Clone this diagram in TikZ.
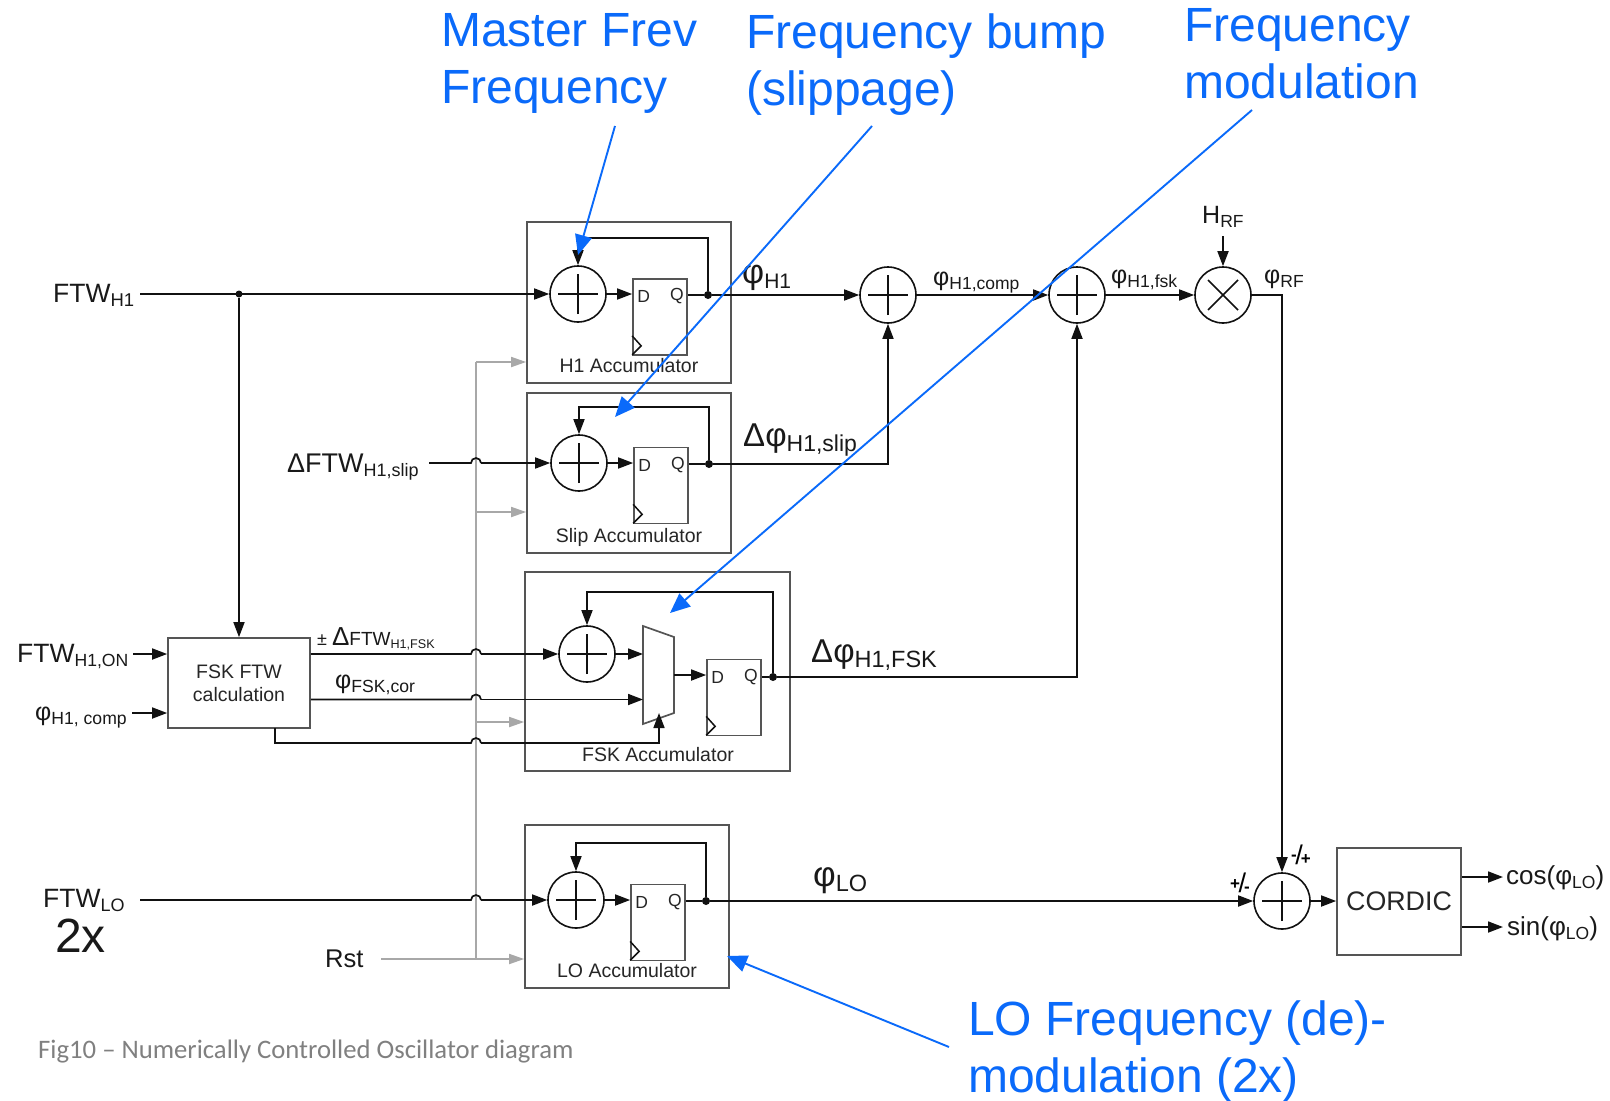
\documentclass[tikz,border=0pt]{standalone}
\usepackage{fontspec}
\setmainfont{Liberation Sans}
\newfontfamily\capfont{Carlito}
\usetikzlibrary{arrows.meta,calc}
\definecolor{noteblue}{HTML}{0A6AFA}
\definecolor{sig}{HTML}{111111}
\definecolor{boxedge}{HTML}{555555}
\definecolor{rstgray}{HTML}{A8A8A8}
\newcommand{\fs}[1]{\fontsize{#1}{#1}\selectfont}
% main size, main text, sub size, sub text
\newcommand{\lbl}[4]{{\fs{#1}#2\raisebox{-0.16em}{\fs{#3}#4}}}
\newcommand{\twolines}[2]{\vtop{\baselineskip=57.5pt\lineskiplimit=-100pt\hbox{#1}\hbox{#2}}}
\tikzset{
  arr/.style={-{Triangle[length=15pt,width=11pt]},line width=1.7pt,draw=sig},
  wire/.style={line width=1.7pt,draw=sig},
  grayarr/.style={-{Triangle[length=15pt,width=10pt]},line width=1.7pt,draw=rstgray},
  graywire/.style={line width=1.9pt,draw=rstgray},
  bluearr/.style={-{Triangle[length=20pt,width=17pt]},line width=1.9pt,draw=noteblue},
  outer/.style={draw=boxedge,line width=1.7pt,inner sep=0pt},
  ffbox/.style={draw=boxedge,line width=1.7pt,inner sep=0pt,minimum width=54pt,minimum height=76pt},
  adder/.style={circle,draw=sig,line width=1.6pt,minimum size=56pt,inner sep=0pt,
    path picture={\draw[line width=1.5pt,draw=sig] ([xshift=-20pt]path picture bounding box.center)--([xshift=20pt]path picture bounding box.center)
      ([yshift=-20pt]path picture bounding box.center)--([yshift=20pt]path picture bounding box.center);}},
  mult/.style={circle,draw=sig,line width=1.6pt,minimum size=56pt,inner sep=0pt,
    path picture={\draw[line width=1.5pt,draw=sig] ([shift={(-15pt,-15pt)}]path picture bounding box.center)--([shift={(15pt,15pt)}]path picture bounding box.center)
      ([shift={(-15pt,15pt)}]path picture bounding box.center)--([shift={(15pt,-15pt)}]path picture bounding box.center);}},
  dotn/.style={circle,fill=sig,inner sep=0pt,minimum size=8pt},
  acc/.style={font=\fs{19.5},text=black!85,inner sep=0pt},
  txt/.style={inner sep=0pt,text=black!90,anchor=base west},
  note/.style={inner sep=0pt,text=noteblue,anchor=base west,font=\fs{48}},
  pinl/.style={font=\fs{17.5},inner sep=0pt,text=black!85},
  clk/.style={line width=1.5pt,draw=sig},
}
\begin{document}
\begin{tikzpicture}[x=1pt,y=-1pt]
\useasboundingbox (0,0) rectangle (1610,1101);
\fill[white] (0,0) rectangle (1610,1101);

% ---- outer boxes
\node[outer,minimum width=204pt,minimum height=161pt] (boxH) at (629,302.5) {};
\node[outer,minimum width=204pt,minimum height=160pt] (boxS) at (629,473) {};
\node[outer,minimum width=265pt,minimum height=199pt] (boxF) at (657.5,671.5) {};
\node[outer,minimum width=204pt,minimum height=163pt] (boxL) at (627,906.5) {};
\node[outer,minimum width=142pt,minimum height=90pt,align=center,font=\fs{19.5},text=black!85] (fsk) at (239,683) {FSK FTW\\[3.5pt]calculation};
\node[outer,minimum width=124pt,minimum height=107pt,font=\fs{26.8},text=black!85] (cordic) at (1399,901.5) {CORDIC};

% ---- accumulator labels
\node[acc] (lH) at (629,366) {H1 Accumulator};
\node[acc] (lS) at (629,537) {Slip Accumulator};
\node[acc] (lF) at (658,755) {FSK Accumulator};
\node[acc] (lL) at (627,971) {LO Accumulator};

% ---- adders
\node[adder] (aH) at (578,294) {};
\node[adder] (aS) at (579,463) {};
\node[adder] (aF) at (587,654) {};
\node[adder] (aL) at (576,900) {};
\node[adder] (s1) at (888,295) {};
\node[adder] (s2) at (1077,295) {};
\node[mult]  (mx) at (1223,295) {};
\node[adder] (s3) at (1282,901) {};

% ---- flip-flops
\node[ffbox] (ffH) at (660,317) {};
\node[ffbox] (ffS) at (661,485.5) {};
\node[ffbox] (ffF) at (734,697.5) {};
\node[ffbox] (ffL) at (658,922.5) {};
\foreach \f/\dy in {ffH/296,ffS/465,ffF/677,ffL/902}{
  \node[pinl,xshift=11.5pt] (\f D) at (\f.west|-0,\dy) {D};
  \node[pinl,xshift=-11pt] (\f Q) at (\f.east|-0,\dy) {Q};
  \draw[clk] ($(\f.south west)+(0,-20)$) -- ($(\f.south west)+(9,-10)$) -- ($(\f.south west)+(0,-1)$);
}

% ---- mux
\coordinate (m1) at (643,626);
\coordinate (m2) at (674,637);
\coordinate (m3) at (674,713);
\coordinate (m4) at (643,724);
\draw[line width=1.7pt,draw=boxedge] (m1) -- (m2) -- (m3) -- (m4) -- cycle;

% ---- junction points and free ends
\node[dotn] (dH) at (708,295) {};
\node[dotn] (dS) at (709,464) {};
\node[dotn] (dF) at (773,677) {};
\node[dotn] (dL) at (706,901) {};
\node[dotn,minimum size=7pt] (dT) at (239,294) {};

% ---- inner accumulator wiring
\draw[arr] (aH.east) -- (ffH.west|-aH);
\draw[arr] (aS.east) -- (ffS.west|-aS);
\draw[arr] (aL.east) -- (ffL.west|-aL);
\draw[wire] (ffH.east|-dH) -- (dH);
\draw[wire] (ffS.east|-dS) -- (dS);
\draw[wire] (ffF.east|-dF) -- (dF);
\draw[wire] (ffL.east|-dL) -- (dL);
\draw[arr] (dH) -- (dH|-0,238) -| (aH.north);
\draw[arr] (dS) -- (dS|-0,407) -| (aS.north);
\draw[arr] (dF) -- (dF|-0,592) -| (aF.north);
\draw[arr] (dL) -- (dL|-0,843) -| (aL.north);
\draw[arr] (aF.east) -- (643,654);
\draw[arr] (674,675) -- (ffF.west|-0,675);

% ---- gray reset network
\coordinate (rS) at (381,959);
\coordinate (rJ) at (476,959);
\coordinate (rT) at (476,362);
\draw[graywire] (rJ) -- (rT);
\draw[grayarr] (rS) -- (boxL.west|-rS);
\draw[grayarr] (rT) -- (boxH.west|-rT);
\draw[grayarr] (476,512) -- (boxS.west|-0,512);
\draw[grayarr] (476,722) -- (boxF.west|-0,722);

% ---- main signal wiring
\coordinate (iH) at (140,294);
\draw[arr] (iH) -- (aH.west);
\draw[arr] (dT) -- (fsk.north);
\draw[arr] (dH) -- (s1.west);
\draw[arr] (s1.east) -- (s2.west);
\draw[arr] (s2.east) -- (mx.west);
\coordinate (iRF) at (1223,236);
\draw[arr] (iRF) -- (mx.north);
\draw[arr] (mx.east) -| (s3.north);
\draw[arr] (dS) -| (s1.south);
\draw[arr] (dF) -| (s2.south);
\draw[arr] (dL) -- (s3.west);
\draw[arr] (s3.east) -- (cordic.west|-s3);

\coordinate (iS) at (429,463);
\draw[wire] (iS) -- (471,463) arc[start angle=180,end angle=360,radius=5];
\draw[arr] (481,463) -- (aS.west);

\draw[wire] (fsk.east|-0,654) -- (471,654) arc[start angle=180,end angle=360,radius=5];
\draw[arr] (481,654) -- (aF.west);
\draw[wire] (fsk.east|-0,699.5) -- (471,699.5) arc[start angle=180,end angle=360,radius=5];
\draw[arr] (481,699.5) -- (643,699.5);
\draw[wire] (275,728) -- (275,743) -- (471,743) arc[start angle=180,end angle=360,radius=5];
\draw[arr] (481,743) -- (659,743) -- (659,713);

\coordinate (iL) at (140,900);
\draw[wire] (iL) -- (471,900) arc[start angle=180,end angle=360,radius=5];
\draw[arr] (481,900) -- (aL.west);

\coordinate (iON) at (133,654);
\coordinate (iPh) at (132,713);
\draw[arr] (iON) -- (fsk.west|-iON);
\draw[arr] (iPh) -- (fsk.west|-iPh);
\coordinate (oC) at (1503,877);
\coordinate (oS) at (1503,927);
\draw[arr] (cordic.east|-oC) -- (oC);
\draw[arr] (cordic.east|-oS) -- (oS);

% ---- signal labels
\node[txt] (tFTW) at (53,302) {\lbl{26.5}{FTW}{18.5}{H1}};
\node[txt] (tSlip) at (287,472) {\lbl{27}{ΔFTW}{18}{H1,slip}};
\node[txt] (tON) at (17,662) {\lbl{26.5}{FTW}{17.6}{H1,ON}};
\node[txt] (tPh) at (35,720) {\lbl{25}{φ}{17.6}{H1, comp}};
\node[txt] (tFd) at (317,645) {{\fs{18}±~}{\fs{26}Δ}\lbl{19}{FTW}{12.6}{H1,FSK}};
\node[txt] (tCor) at (335,688) {\lbl{25}{φ}{17.6}{FSK,cor}};
\node[txt] (tLO) at (43,907) {\lbl{26.5}{FTW}{18}{LO}};
\node[txt,font=\fs{48}] (t2x) at (55,952) {2x};
\node[txt,font=\fs{25.6}] (tRst) at (325,967) {Rst};
\node[txt] (tPH1) at (742,283) {\lbl{34}{φ}{21}{H1}};
\node[txt] (tDS) at (743,446) {\lbl{33}{Δφ}{23}{H1,slip}};
\node[txt] (tDF) at (811,662) {\lbl{33}{Δφ}{23.5}{H1,FSK}};
\node[txt] (tPLO) at (813,886) {\lbl{35}{φ}{23.5}{LO}};
\node[txt] (tComp) at (933,285) {\lbl{25}{φ}{17.5}{H1,comp}};
\node[txt] (tFsk) at (1111,283) {\lbl{25}{φ}{17.6}{H1,fsk}};
\node[txt] (tRF) at (1264,283) {\lbl{25}{φ}{17.5}{RF}};
\node[txt] (tHRF) at (1202,223) {\lbl{25}{H}{17.5}{RF}};
\node[txt] (tCos) at (1506,884) {{\fs{26}cos(}\lbl{26}{φ}{17.5}{LO}{\fs{26})}};
\node[txt] (tSin) at (1507,935) {{\fs{26}sin(}\lbl{26}{φ}{17.5}{LO}{\fs{26})}};
\node[inner sep=0pt] (tPM) at (1240,883) {\raisebox{.3em}{\fs{17}\bfseries +}\hspace{-1.5pt}{\fs{27}/}\hspace{-2pt}\raisebox{.02em}{\fs{17}\bfseries -}};
\node[inner sep=0pt] (tMP) at (1301,855) {\raisebox{.38em}{\fs{17}\bfseries -}\hspace{-1.5pt}{\fs{27}/}\hspace{-2pt}\raisebox{-.02em}{\fs{17}\bfseries +}};

% ---- caption
\node[inner sep=0pt,anchor=west,text=black!50,font=\capfont\fs{26.7}] (cap) at (38,1052) {Fig10 – Numerically Controlled Oscillator diagram};

% ---- blue notes
\node[note] (n1) at (441,46) {\twolines{Master Frev}{Frequency}};
\node[note] (n2) at (746,48) {\twolines{Frequency bump}{(slippage)}};
\node[note] (n3) at (1184,41) {\twolines{Frequency}{modulation}};
\node[note] (n4) at (968,1035) {\twolines{LO Frequency (de)-}{modulation (2x)}};
\coordinate (b1) at (615,126);
\coordinate (b2) at (872,126);
\coordinate (b3) at (1252,110);
\coordinate (b4) at (949,1047);
\coordinate (e1) at (578,255);
\coordinate (e2) at (615,417);
\coordinate (e3) at (670,613);
\coordinate (e4) at (727,956);
\draw[bluearr] (b1) -- (e1);
\draw[bluearr] (b2) -- (e2);
\draw[bluearr] (b3) -- (e3);
\draw[bluearr] (b4) -- (e4);
\end{tikzpicture}
\end{document}
